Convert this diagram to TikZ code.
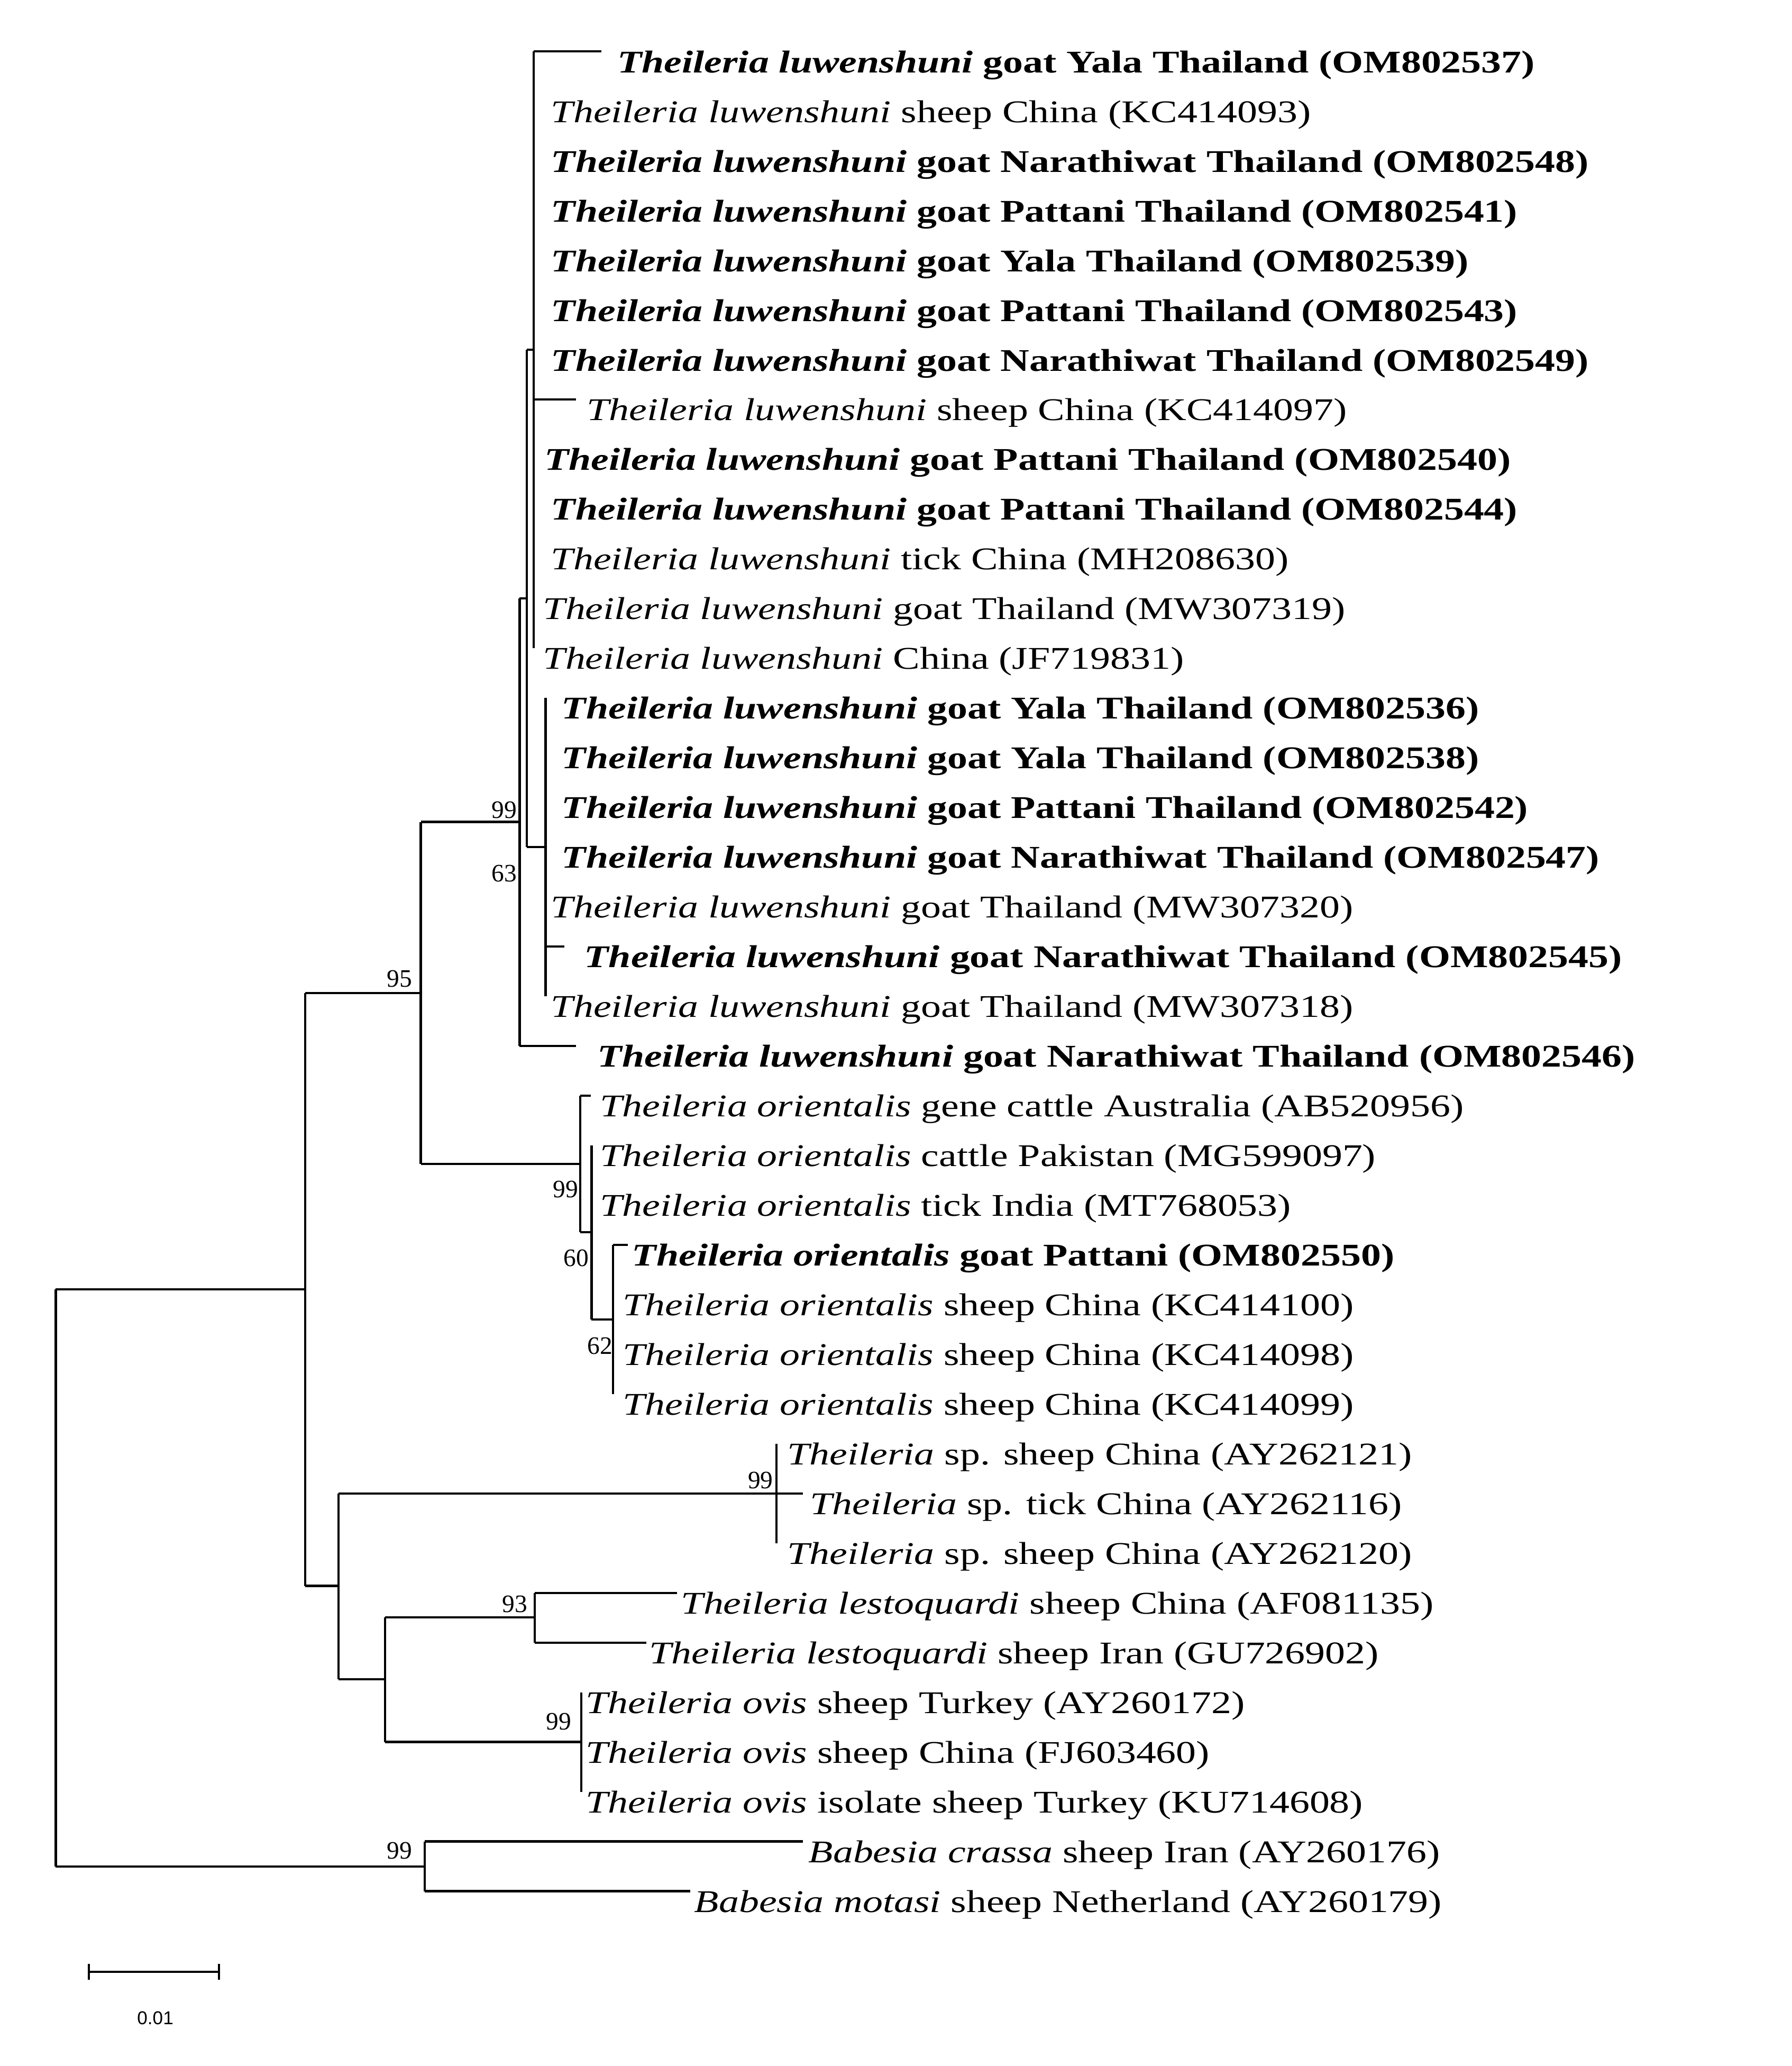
\documentclass[tikz,border=0pt]{standalone}
\usepackage{fontspec}
\setmainfont{Liberation Serif}
\newfontfamily\scalefont{Liberation Sans}
\newcommand\lf[6]{%
  \coordinate (#1t) at (#2,{39+37.75*(#5-1)});
  \node[leafnode] (#1) at ([yshift=-0.80cm]#3,{39+37.75*(#5-1)}) {#6};
  \draw[br] (#4 |- #1t) -- (#1t);}
\newcommand\tl{\textit{Theileria luwenshuni}}
\newcommand\tbl[1]{\textbf{\textit{Theileria luwenshuni} #1}}
\newcommand\tor{\textit{Theileria orientalis}}
\begin{document}
\begin{tikzpicture}[x=0.0502cm,y=-0.0498cm,
  br/.style={line width=2.4pt},
  leafnode/.style={anchor=base west,inner sep=0pt,font=\fontsize{34}{40}\selectfont,xscale=1.27},
  boot/.style={inner sep=0pt,font=\fontsize{27}{30}\selectfont}]
\useasboundingbox (0,0) rectangle (1350,1568.5);
% internal nodes
\coordinate (A) at (402,265.5);
\coordinate (C) at (411,643);
\coordinate (B) at (397,454.25);
\coordinate (D) at (391.5,624);
\coordinate (H) at (461.7,1001.6);
\coordinate (G) at (445.7,935.5);
\coordinate (F) at (437,883.6);
\coordinate (E) at (317,753.8);
\coordinate (S) at (585,1133.75);
\coordinate (L) at (403,1228);
\coordinate (O) at (438,1322.5);
\coordinate (J) at (290,1275);
\coordinate (K) at (255,1204);
\coordinate (I) at (230,979);
\coordinate (Ba) at (320,1417);
\coordinate (R) at (42,1417);
% verticals
\draw[br] (402,39) -- (402,492);
\draw[br] (411,529.75) -- (411,756.25);
\draw[br] (397,265.5) -- (397,643);
\draw[br] (391.5,454.25) -- (391.5,794);
\draw[br] (461.7,945) -- (461.7,1058.25);
\draw[br] (445.7,869.5) -- (445.7,1001.6);
\draw[br] (437,831.75) -- (437,935.5);
\draw[br] (317,624) -- (317,883.6);
\draw[br] (585,1096) -- (585,1171.5);
\draw[br] (403,1209.25) -- (403,1247);
\draw[br] (438,1284.75) -- (438,1360.25);
\draw[br] (290,1228) -- (290,1322.5);
\draw[br] (255,1133.75) -- (255,1275);
\draw[br] (230,753.8) -- (230,1204);
\draw[br] (320,1398) -- (320,1435.75);
\draw[br] (42,979) -- (42,1417);
% horizontals between internal nodes
\draw[br] (B |- A) -- (A);
\draw[br] (B |- C) -- (C);
\draw[br] (D |- B) -- (B);
\draw[br] (E |- D) -- (D);
\draw[br] (G |- H) -- (H);
\draw[br] (F |- G) -- (G);
\draw[br] (E |- F) -- (F);
\draw[br] (I |- E) -- (E);
\draw[br] (K |- S) -- (S);
\draw[br] (J |- L) -- (L);
\draw[br] (J |- O) -- (O);
\draw[br] (K |- J) -- (J);
\draw[br] (I |- K) -- (K);
\draw[br] (R |- I) -- (I);
\draw[br] (R) -- (Ba);
% leaves
\lf{l1}{453}{465}{A}{1}{\tbl{goat Yala Thailand (OM802537)}}
\lf{l2}{402}{415}{A}{2}{\tl{} sheep China (KC414093)}
\lf{l3}{402}{415}{A}{3}{\tbl{goat Narathiwat Thailand (OM802548)}}
\lf{l4}{402}{415}{A}{4}{\tbl{goat Pattani Thailand (OM802541)}}
\lf{l5}{402}{415}{A}{5}{\tbl{goat Yala Thailand (OM802539)}}
\lf{l6}{402}{415}{A}{6}{\tbl{goat Pattani Thailand (OM802543)}}
\lf{l7}{402}{415}{A}{7}{\tbl{goat Narathiwat Thailand (OM802549)}}
\lf{l8}{434}{442}{A}{8}{\tl{} sheep China (KC414097)}
\lf{l9}{402}{410}{A}{9}{\tbl{goat Pattani Thailand (OM802540)}}
\lf{l10}{402}{415}{A}{10}{\tbl{goat Pattani Thailand (OM802544)}}
\lf{l11}{402}{415}{A}{11}{\tl{} tick China (MH208630)}
\lf{l12}{402}{409}{A}{12}{\tl{} goat Thailand (MW307319)}
\lf{l13}{402}{409}{A}{13}{\tl{} China (JF719831)}
\lf{l14}{411}{423}{C}{14}{\tbl{goat Yala Thailand (OM802536)}}
\lf{l15}{411}{423}{C}{15}{\tbl{goat Yala Thailand (OM802538)}}
\lf{l16}{411}{423}{C}{16}{\tbl{goat Pattani Thailand (OM802542)}}
\lf{l17}{411}{423}{C}{17}{\tbl{goat Narathiwat Thailand (OM802547)}}
\lf{l18}{411}{415}{C}{18}{\tl{} goat Thailand (MW307320)}
\lf{l19}{425}{440}{C}{19}{\tbl{goat Narathiwat Thailand (OM802545)}}
\lf{l20}{411}{415}{C}{20}{\tl{} goat Thailand (MW307318)}
\lf{l21}{434}{450}{D}{21}{\tbl{goat Narathiwat Thailand (OM802546)}}
\lf{l22}{445}{452}{F}{22}{\tor{} gene cattle Australia (AB520956)}
\lf{l23}{445.7}{452}{G}{23}{\tor{} cattle Pakistan (MG599097)}
\lf{l24}{445.7}{452}{G}{24}{\tor{} tick India (MT768053)}
\lf{l25}{473}{476}{H}{25}{\textbf{\textit{Theileria orientalis} goat Pattani (OM802550)}}
\lf{l26}{461.7}{469}{H}{26}{\tor{} sheep China (KC414100)}
\lf{l27}{461.7}{469}{H}{27}{\tor{} sheep China (KC414098)}
\lf{l28}{461.7}{469}{H}{28}{\tor{} sheep China (KC414099)}
\lf{l29}{585}{593}{S}{29}{\textit{Theileria} sp. sheep China (AY262121)}
\lf{l30}{605}{610}{S}{30}{\textit{Theileria} sp. tick China (AY262116)}
\lf{l31}{585}{593}{S}{31}{\textit{Theileria} sp. sheep China (AY262120)}
\lf{l32}{510}{513}{L}{32}{\textit{Theileria lestoquardi} sheep China (AF081135)}
\lf{l33}{487}{489}{L}{33}{\textit{Theileria lestoquardi} sheep Iran (GU726902)}
\lf{l34}{438}{441}{O}{34}{\textit{Theileria ovis} sheep Turkey (AY260172)}
\lf{l35}{438}{441}{O}{35}{\textit{Theileria ovis} sheep China (FJ603460)}
\lf{l36}{438}{441}{O}{36}{\textit{Theileria ovis} isolate sheep Turkey (KU714608)}
\lf{l37}{605}{609}{Ba}{37}{\textit{Babesia crassa} sheep Iran (AY260176)}
\lf{l38}{520}{523}{Ba}{38}{\textit{Babesia motasi} sheep Netherland (AY260179)}
% bootstrap values
\node[boot] (b1) at (380,615) {99};
\node[boot] (b2) at (380,663) {63};
\node[boot] (b3) at (301,743) {95};
\node[boot] (b4) at (426,903) {99};
\node[boot] (b5) at (434,955) {60};
\node[boot] (b6) at (452,1022) {62};
\node[boot] (b7) at (573,1124) {99};
\node[boot] (b8) at (388,1218) {93};
\node[boot] (b9) at (421,1307) {99};
\node[boot] (b10) at (301,1405) {99};
% scale bar
\coordinate (s1) at (67,1497);
\coordinate (s2) at (165,1497);
\draw[line width=2pt] (s1) -- (s2);
\draw[line width=2pt] ([yshift=0.3cm]s1) -- ([yshift=-0.3cm]s1);
\draw[line width=2pt] ([yshift=0.3cm]s2) -- ([yshift=-0.3cm]s2);
\node[inner sep=0pt,font=\scalefont\fontsize{20}{24}\selectfont] (sl) at (117,1532) {0.01};
\end{tikzpicture}
\end{document}
